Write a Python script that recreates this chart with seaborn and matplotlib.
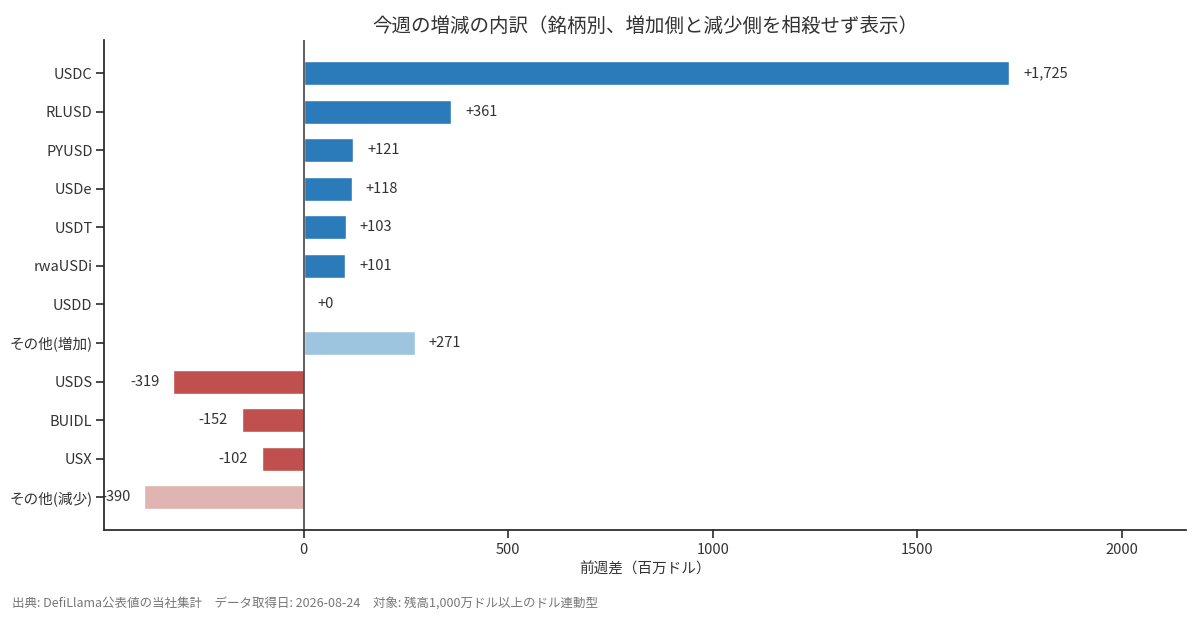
import numpy as np
import pandas as pd
import seaborn as sns
import matplotlib.pyplot as plt

# 銘柄別の前週差（百万ドル）
names = ['USDC', 'RLUSD', 'PYUSD', 'USDe', 'USDT', 'rwaUSDi', 'USDD', 'その他(増加)',
         'USDS', 'BUIDL', 'USX', 'その他(減少)']
changes = [1725, 361, 121, 118, 103, 101, 0, 271, -319, -152, -102, -390]
groups = ['inc', 'inc', 'inc', 'inc', 'inc', 'inc', 'inc', 'inc_other',
          'dec', 'dec', 'dec', 'dec_other']

palette = {'inc': '#2b7bba', 'inc_other': '#9ec5e0', 'dec': '#c0504d', 'dec_other': '#e0b4b0'}

sns.set_theme(style='ticks')
plt.rcParams['font.family'] = ['Noto Sans CJK JP', 'DejaVu Sans']

df = pd.DataFrame({'name': names, 'change': changes, 'group': groups})

fig = plt.figure(figsize=(12, 6.2), dpi=100)
ax = fig.add_axes([0.087, 0.145, 0.901, 0.79])

sns.barplot(data=df, x='change', y='name', hue='group', palette=palette,
            dodge=False, width=0.62, legend=False, saturation=1, ax=ax, orient='h')

ax.axvline(0, color='#444444', lw=1.2)

lo, hi = min(changes), max(changes)
ax.set_xlim(lo * 1.25, hi * 1.25)
ax.set_ylim(len(names) - 1 + 0.85, -0.85)

for i, v in enumerate(changes):
    if v >= 0:
        ax.annotate(f'+{v:,}', (v, i), xytext=(10, 0), textcoords='offset points',
                    va='center', ha='left', fontsize=10.5, color='#333333')
    else:
        ax.annotate(f'{v:,}', (v, i), xytext=(-10, 0), textcoords='offset points',
                    va='center', ha='right', fontsize=10.5, color='#333333')

ax.set_xticks([0, 500, 1000, 1500, 2000])
ax.set_xlabel('前週差（百万ドル）', fontsize=10.5, color='#333333')
ax.set_ylabel('')
ax.tick_params(axis='both', labelsize=10.5, colors='#333333')
ax.tick_params(axis='y', pad=2.5)
ax.set_title('今週の増減の内訳（銘柄別、増加側と減少側を相殺せず表示）', fontsize=14, color='#333333', pad=6)
sns.despine(ax=ax)

fig.text(0.01, 0.022, '出典: DefiLlama公表値の当社集計　データ取得日: 2026-08-24　対象: 残高1,000万ドル以上のドル連動型',
         fontsize=9, color='#777777')

fig.savefig('out.png', dpi=100)
